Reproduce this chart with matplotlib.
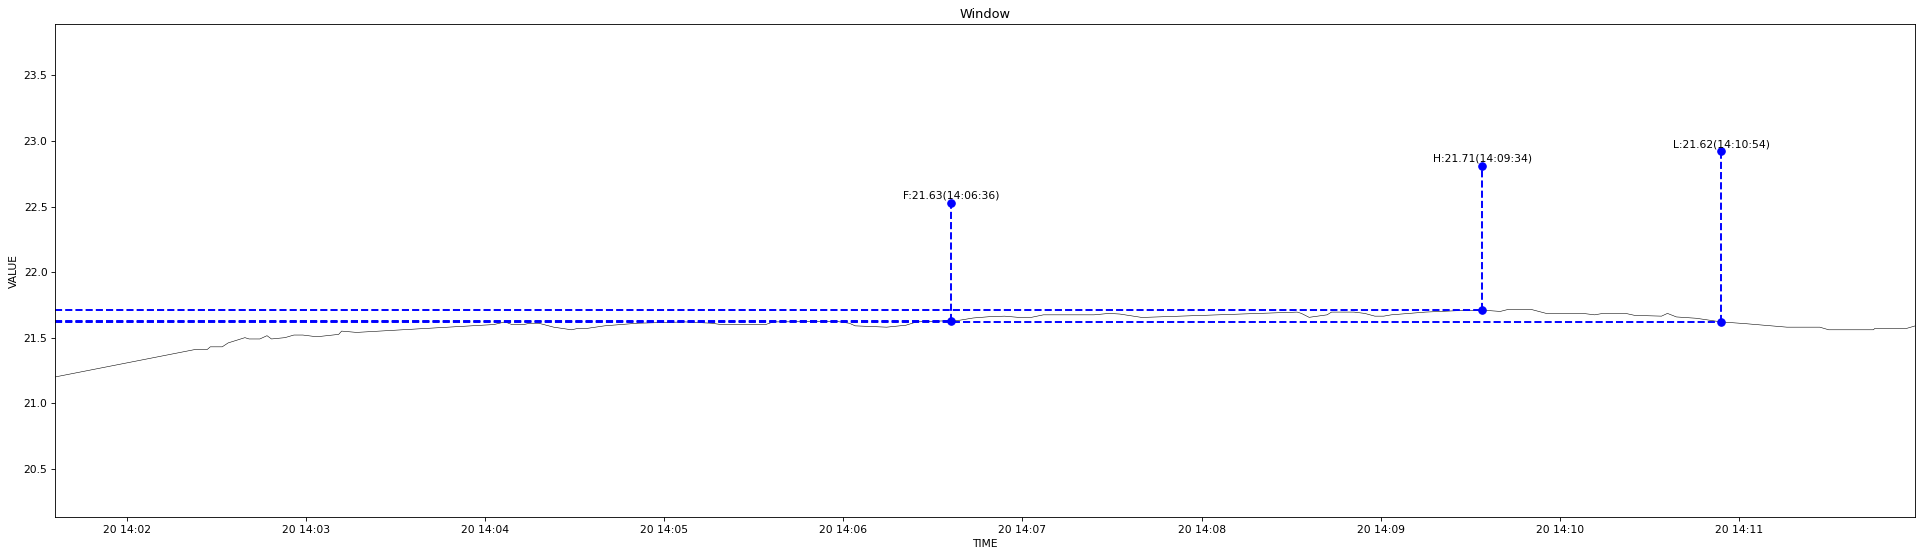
import numpy as np
import pandas as pd
import matplotlib
matplotlib.use("Agg")
import matplotlib.pyplot as plt

# seconds after 20 14:01:36 and the value read at each point
start = pd.Timestamp("2023-03-20 14:01:36")
secs = [0, 47, 51, 52, 56, 58, 63.6, 65, 68.6, 71, 72.5, 77, 80, 83, 86.5, 89,
        95, 96, 101, 147, 150.7, 153, 157, 159, 162, 167, 173, 175, 178, 184,
        195, 211, 220, 223, 238, 240.5, 262, 266, 268, 278.5, 285, 288.5, 300,
        303, 307.5, 313, 318, 322.5, 327, 331, 348, 353, 356.6, 364, 389.5,
        416, 417.4, 420, 426, 427.5, 435, 438.6, 442, 445, 447.5, 459, 469,
        478, 484, 486.6, 494.4, 499.4, 511.7, 515.6, 518.4, 526, 529, 538,
        540, 543, 549.6, 558, 566, 580, 591, 594, 609, 609.4, 620, 623]
values = [21.20, 21.41, 21.41, 21.43, 21.43, 21.46, 21.50, 21.49, 21.49, 21.515,
          21.49, 21.50, 21.52, 21.52, 21.51, 21.51, 21.525, 21.55, 21.54, 21.60,
          21.62, 21.60, 21.60, 21.61, 21.61, 21.58, 21.56, 21.57, 21.57, 21.59,
          21.61, 21.62, 21.61, 21.60, 21.60, 21.62, 21.623, 21.61, 21.59, 21.58,
          21.595, 21.62, 21.63, 21.633, 21.65, 21.66, 21.664, 21.655, 21.655,
          21.674, 21.674, 21.685, 21.68, 21.654, 21.674, 21.695, 21.685, 21.655,
          21.674, 21.695, 21.695, 21.685, 21.664, 21.664, 21.674, 21.695, 21.705,
          21.71, 21.70, 21.715, 21.715, 21.685, 21.685, 21.674, 21.685, 21.685,
          21.67, 21.664, 21.685, 21.658, 21.648, 21.62, 21.607, 21.58, 21.58,
          21.56, 21.56, 21.57, 21.57, 21.59]

# marked points: name, seconds after start, value, height of the stem
mark_names = ["F", "H", "L"]
mark_secs = [300, 478, 558]
mark_values = [21.63, 21.71, 21.62]
mark_heights = [0.9, 1.1, 1.3]

times = start + pd.to_timedelta(secs, unit="s")

dpi = 77
fig = plt.figure(figsize=(1923 / dpi, 557 / dpi), dpi=dpi)
ax = fig.add_axes([0.0286, 0.0713, 0.9674, 0.8851])

ax.plot(times, values, "k-", lw=0.5)

for name, s, v, h in zip(mark_names, mark_secs, mark_values, mark_heights):
    t = start + pd.Timedelta(seconds=s)
    ax.plot([times[0], t], [v, v], "b--", lw=1.8)
    ax.plot([t, t], [v, v + h], "bo--", lw=1.8, ms=7)
    ax.text(t, v + h + 0.015, f"{name}:{v:.2f}({t:%H:%M:%S})",
            ha="center", va="bottom", fontsize=10)

ax.set_xlim(times[0], times[-1])
ax.set_ylim(20.13, 23.89)
ax.set_title("Window")
ax.set_xlabel("TIME")
ax.set_ylabel("VALUE")

fig.savefig("out.png", dpi=dpi)
